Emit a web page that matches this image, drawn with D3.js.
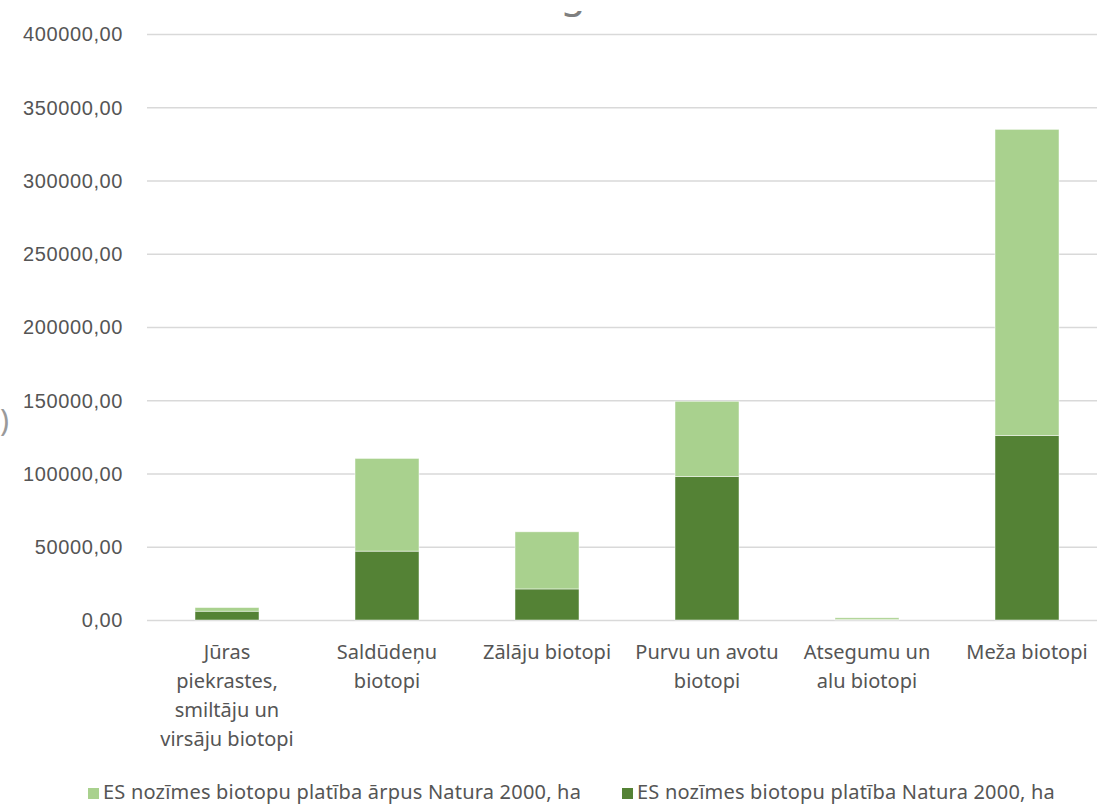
<!DOCTYPE html>
<html>
<head>
<meta charset="utf-8">
<script src="https://cdn.jsdelivr.net/npm/d3@7"></script>
<style>
  html, body { margin: 0; padding: 0; background: #fff; }
  svg { display: block; font-family: "Noto Sans", "Open Sans", sans-serif; }
</style>
</head>
<body>
<svg id="chart" width="1097" height="805"></svg>
<script>
// Habitat groups (x axis)
const categories = [
  "Jūras piekrastes, smiltāju un virsāju biotopi",
  "Saldūdeņu biotopi",
  "Zālāju biotopi",
  "Purvu un avotu biotopi",
  "Atsegumu un alu biotopi",
  "Meža biotopi"
];
// Area inside Natura 2000, ha
const insideNatura = [6000, 47000, 21200, 98000, 300, 126000];
// Area outside Natura 2000, ha
const outsideNatura = [2500, 63300, 39000, 51300, 1200, 208900];
const seriesNames = [
  "ES nozīmes biotopu platība ārpus Natura 2000, ha",
  "ES nozīmes biotopu platība Natura 2000, ha"
];
const yTicks = [0, 50000, 100000, 150000, 200000, 250000, 300000, 350000, 400000];

const colDark = "#548235", colLight = "#A9D18E", textCol = "#555555";
const svg = d3.select("#chart");

const x = d3.scaleBand().domain(categories).range([147, 1107]).paddingInner(0.6).paddingOuter(0.3);
const y = d3.scaleLinear().domain([0, 400000]).range([620, 34]);

const fmt = v => d3.format(".2f")(v).replace(".", ",");

// Gridlines and y tick labels
const yAxis = d3.axisLeft(y).tickValues(yTicks).tickFormat(fmt).tickSize(-(1107 - 147)).tickPadding(24);
const gy = svg.append("g").attr("transform", "translate(147,0)").call(yAxis);
gy.select(".domain").remove();
gy.selectAll(".tick line").attr("stroke", "#D9D9D9").attr("stroke-width", 1.3);
gy.selectAll(".tick text").attr("fill", textCol).attr("font-size", 20)
  .attr("letter-spacing", "0.6px").attr("dy", "0.34em");

// Stacked bars
const stackData = categories.map((c, i) => ({ cat: c, inside: insideNatura[i], outside: outsideNatura[i] }));
const stacked = d3.stack().keys(["inside", "outside"])(stackData);
const colors = { inside: colDark, outside: colLight };

svg.append("g").selectAll("g").data(stacked).join("g")
  .attr("fill", d => colors[d.key])
  .selectAll("rect").data(d => d).join("rect")
  .attr("x", d => x(d.data.cat))
  .attr("width", x.bandwidth())
  .attr("y", d => y(d[1]))
  .attr("height", d => y(d[0]) - y(d[1]))
  .attr("stroke", "#fff").attr("stroke-opacity", 0.6).attr("stroke-width", 0.8);

// Category labels, word-wrapped under each bar
const labels = svg.append("g").attr("fill", textCol).attr("font-size", 20).attr("text-anchor", "middle");
categories.forEach(c => {
  const cx = x(c) + x.bandwidth() / 2;
  const t = labels.append("text").attr("x", cx).attr("y", 659);
  const words = c.split(" ");
  let line = [], lines = [];
  const probe = labels.append("text").attr("visibility", "hidden");
  words.forEach(w => {
    const trial = line.concat(w).join(" ");
    probe.text(trial);
    if (probe.node().getComputedTextLength() > 152 && line.length) {
      lines.push(line.join(" "));
      line = [w];
    } else line.push(w);
  });
  lines.push(line.join(" "));
  probe.remove();
  lines.forEach((l, i) => t.append("tspan").attr("x", cx).attr("dy", i ? 29 : 0).text(l));
});

// Legend
const legend = svg.append("g").attr("font-size", 20).attr("fill", textCol);
const legendX = [88, 622];
[colLight, colDark].forEach((col, i) => {
  legend.append("rect").attr("x", legendX[i]).attr("y", 788).attr("width", 11).attr("height", 11).attr("fill", col);
  legend.append("text").attr("x", legendX[i] + 15).attr("y", 799).attr("letter-spacing", "0.2px").text(seriesNames[i]);
});

// Clipped fragments of the chart title and y-axis title at the canvas edge
svg.append("clipPath").attr("id", "titleClip")
  .append("rect").attr("x", 540).attr("y", 11).attr("width", 70).attr("height", 12);
svg.append("text").attr("x", 573).attr("y", 7).attr("text-anchor", "middle")
  .attr("clip-path", "url(#titleClip)")
  .attr("font-size", 40).attr("fill", "#7f7f7f").text("g");
svg.append("text").attr("x", 0).attr("y", 431)
  .attr("font-size", 30).attr("fill", "#9a9a9a").text(")");
</script>
</body>
</html>
